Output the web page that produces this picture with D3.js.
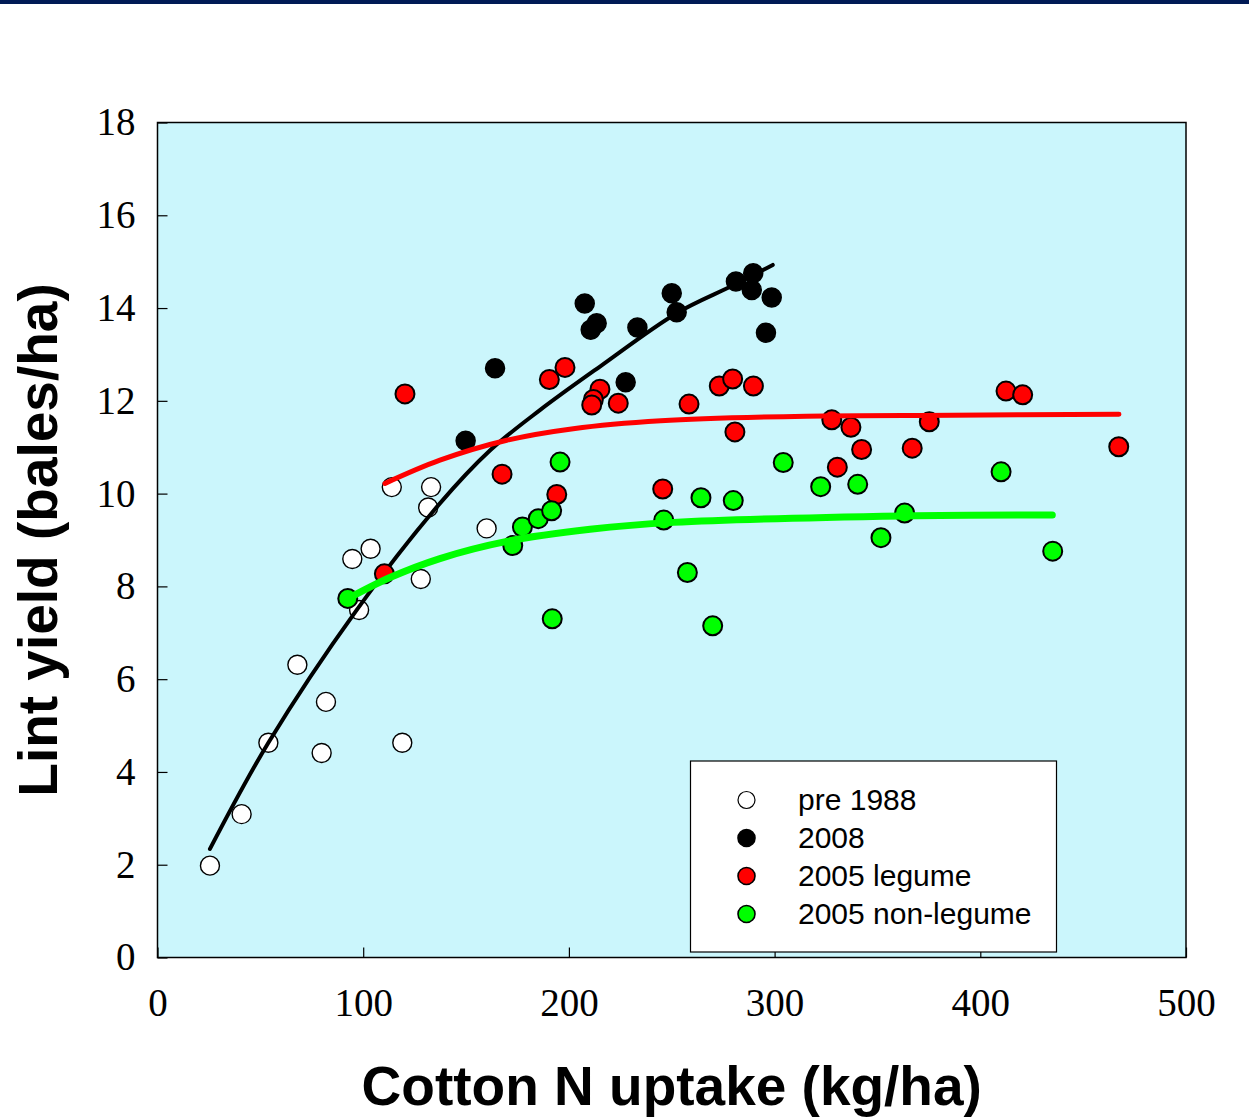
<!DOCTYPE html>
<html>
<head>
<meta charset="utf-8">
<script src="https://cdn.jsdelivr.net/npm/d3@7"></script>
<style>
  body { margin: 0; background: #fff; }
</style>
</head>
<body>
<svg id="chart"></svg>
<script>
// scatter data (x = N uptake kg/ha, y = bales/ha)
var pre1988X = [25.5, 40.9, 53.9, 68.0, 81.9, 79.8, 94.7, 103.6, 98.0, 113.9, 133.0, 131.6, 119.0, 160.0, 128.0];
var pre1988Y = [1.98, 3.09, 4.63, 6.31, 5.51, 4.41, 8.59, 8.81, 7.49, 10.14, 10.14, 9.70, 4.63, 9.25, 8.16];

var y2008X = [207.7, 213.5, 210.6, 164.1, 233.3, 250.0, 252.4, 227.6, 149.8, 281.2, 289.6, 288.9, 298.6, 295.8];
var y2008Y = [14.10, 13.67, 13.53, 12.70, 13.58, 14.32, 13.91, 12.40, 11.14, 14.57, 14.75, 14.39, 14.23, 13.47];

var legumeX = [120.3, 110.3, 190.5, 198.1, 215.1, 211.9, 211.1, 224.0, 258.4, 273.1, 279.6, 289.7, 280.7, 167.5, 194.1, 245.6,
               327.8, 337.1, 375.2, 342.3, 366.9, 330.5, 412.5, 420.6, 467.3];
var legumeY = [12.15, 8.27, 12.46, 12.72, 12.25, 12.03, 11.91, 11.95, 11.93, 12.32, 12.47, 12.32, 11.33, 10.42, 9.98, 10.10,
               11.59, 11.43, 11.55, 10.95, 10.98, 10.57, 12.21, 12.13, 11.01];

var nonLegumeX = [92.5, 195.7, 172.7, 177.4, 185.1, 191.6, 191.9, 246.1, 264.2, 279.9, 257.6, 269.9, 304.2, 322.4,
                  340.4, 410.1, 363.2, 351.7, 435.2];
var nonLegumeY = [7.74, 10.68, 8.88, 9.28, 9.46, 9.63, 7.30, 9.43, 9.91, 9.85, 8.30, 7.15, 10.67, 10.15,
                  10.20, 10.47, 9.58, 9.05, 8.76];

// fitted curves, points
var fit2008X = [25.5, 53.9, 96.8, 137.3, 161.6, 185.9, 215.1, 252.4, 279.9, 299.1];
var fit2008Y = [2.34, 4.63, 7.49, 9.79, 10.93, 11.80, 12.74, 13.89, 14.49, 14.93];

var fitLegumeX = [110.6, 137.3, 169.8, 202.1, 244.7, 315.4, 386.1, 467.4];
var fitLegumeY = [10.22, 10.72, 11.15, 11.40, 11.57, 11.67, 11.69, 11.71];

var fitNonLegumeX = [92.8, 113.0, 137.3, 169.8, 210.3, 250.8, 362.5, 435.0];
var fitNonLegumeY = [7.74, 8.19, 8.60, 8.97, 9.23, 9.38, 9.52, 9.54];

var xTicks = [0, 100, 200, 300, 400, 500];
var yTicks = [0, 2, 4, 6, 8, 10, 12, 14, 16, 18];
var legendLabels = ["pre 1988", "2008", "2005 legume", "2005 non-legume"];

function pairs(xs, ys) {
    return xs.map(function(x, i) { return { x: x, y: ys[i] }; });
}

var W = 1249, H = 1120;
var plotL = 157.5, plotR = 1186, plotT = 122.5, plotB = 957.5;

var svg = d3.select("#chart")
    .attr("width", W)
    .attr("height", H);

// dark band along the top edge
svg.append("rect")
    .attr("x", 0).attr("y", 0)
    .attr("width", W).attr("height", 4)
    .attr("fill", "#001a55");

var xScale = d3.scaleLinear().domain([0, 500]).range([plotL, plotR]);
var yScale = d3.scaleLinear().domain([0, 18]).range([plotB, plotT]);

// plot background
svg.append("rect")
    .attr("x", plotL).attr("y", plotT)
    .attr("width", plotR - plotL).attr("height", plotB - plotT)
    .attr("fill", "#cbf6fc");

var serif = "'Times New Roman', 'Liberation Serif', serif";
var sans = "Arial, 'Liberation Sans', sans-serif";

// axes, ticks point into the plot
var xAxis = svg.append("g")
    .attr("transform", "translate(0," + plotB + ")")
    .call(d3.axisBottom(xScale).tickValues(xTicks).tickSizeInner(-10).tickSizeOuter(0).tickPadding(45));
var yAxis = svg.append("g")
    .attr("transform", "translate(" + plotL + ",0)")
    .call(d3.axisLeft(yScale).tickValues(yTicks).tickSizeInner(-10).tickSizeOuter(0).tickPadding(22));

[xAxis, yAxis].forEach(function(ax) {
    ax.select(".domain").remove();
    ax.selectAll(".tick line").attr("stroke", "#000").attr("stroke-width", 1.2);
    ax.selectAll(".tick text")
        .attr("fill", "#000")
        .style("font-family", serif)
        .style("font-size", "39px");
});
xAxis.selectAll(".tick text").attr("dy", "0.35em");

var markR = 9.5;

function drawPoints(data, fill, sw) {
    svg.append("g").selectAll("circle")
        .data(data)
        .enter().append("circle")
        .attr("cx", function(d) { return xScale(d.x); })
        .attr("cy", function(d) { return yScale(d.y); })
        .attr("r", markR)
        .attr("fill", fill)
        .attr("stroke", "#000")
        .attr("stroke-width", sw);
}

var line = d3.line()
    .x(function(d) { return xScale(d.x); })
    .y(function(d) { return yScale(d.y); })
    .curve(d3.curveCatmullRom.alpha(0.5));

function drawFit(data, color, w) {
    svg.append("path")
        .datum(data)
        .attr("d", line)
        .attr("fill", "none")
        .attr("stroke", color)
        .attr("stroke-width", w)
        .attr("stroke-linecap", "round");
}

drawPoints(pairs(pre1988X, pre1988Y), "#fff", 1.4);
drawPoints(pairs(y2008X, y2008Y), "#000", 1.5);
drawFit(pairs(fit2008X, fit2008Y), "#000", 4);
drawPoints(pairs(legumeX, legumeY), "#ff0000", 2);
drawFit(pairs(fitLegumeX, fitLegumeY), "#ff0000", 5);
drawPoints(pairs(nonLegumeX, nonLegumeY), "#00ff00", 2);
drawFit(pairs(fitNonLegumeX, fitNonLegumeY), "#00ff00", 7);

// frame
svg.append("rect")
    .attr("x", plotL).attr("y", plotT)
    .attr("width", plotR - plotL).attr("height", plotB - plotT)
    .attr("fill", "none")
    .attr("stroke", "#000")
    .attr("stroke-width", 1.5);

// legend
var legendFill = ["#fff", "#000", "#ff0000", "#00ff00"];
var lg = svg.append("g");
lg.append("rect")
    .attr("x", 690.5).attr("y", 761)
    .attr("width", 366).attr("height", 191)
    .attr("fill", "#fff")
    .attr("stroke", "#000")
    .attr("stroke-width", 1.2);
legendLabels.forEach(function(lbl, i) {
    var cy = 800 + i * 38;
    lg.append("circle")
        .attr("cx", 746.5).attr("cy", cy)
        .attr("r", 8.5)
        .attr("fill", legendFill[i])
        .attr("stroke", "#000")
        .attr("stroke-width", i === 0 ? 1.2 : 1.6);
    lg.append("text")
        .attr("x", 798).attr("y", cy + 10)
        .style("font-family", sans)
        .style("font-size", "30px")
        .text(lbl);
});

// axis titles
svg.append("text")
    .attr("x", (plotL + plotR) / 2)
    .attr("y", 1105)
    .attr("text-anchor", "middle")
    .style("font-family", sans)
    .style("font-weight", "bold")
    .style("font-size", "55px")
    .text("Cotton N uptake (kg/ha)");

svg.append("text")
    .attr("transform", "translate(57," + ((plotT + plotB) / 2) + ") rotate(-90)")
    .attr("text-anchor", "middle")
    .style("font-family", sans)
    .style("font-weight", "bold")
    .style("font-size", "55px")
    .text("Lint yield (bales/ha)");
</script>
</body>
</html>
